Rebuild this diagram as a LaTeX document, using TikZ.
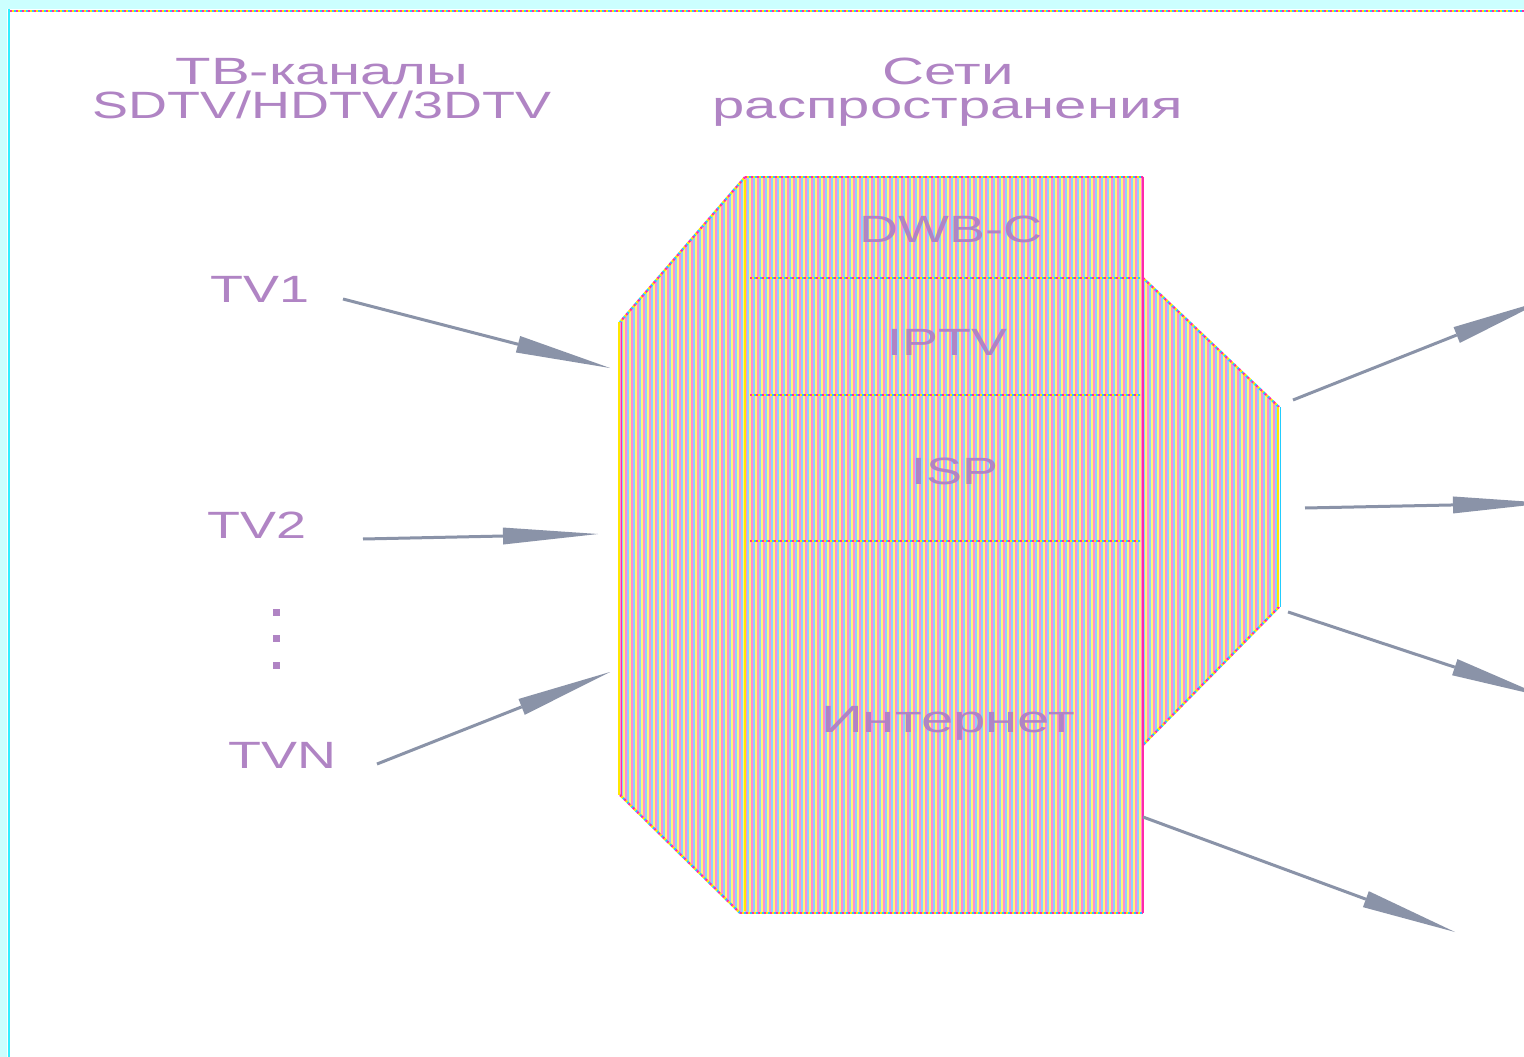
\documentclass[tikz,border=0pt]{standalone}
\usepackage{fontspec}
\setmainfont{Liberation Sans}
\newfontfamily\widefont[FakeStretch=1.42]{Liberation Sans}
\newfontfamily\widecyr[FakeStretch=1.53]{Liberation Sans}
\usetikzlibrary{arrows.meta}
\definecolor{bgcyan}{HTML}{CCFFFF}
\definecolor{brcyan}{HTML}{33EEFF}
\definecolor{stpink}{HTML}{FF8FCF}
\definecolor{stblue}{HTML}{8FD0FF}
\definecolor{styellow}{HTML}{FFF57A}
\definecolor{dmag}{HTML}{FF2AA8}
\definecolor{dcyan}{HTML}{22CCFF}
\definecolor{dyel}{HTML}{FFE800}
\definecolor{txtc}{HTML}{B084C4}
\definecolor{arrc}{HTML}{8A93A8}
\tikzset{
  lbl/.style={font=\widefont\fontsize{38}{40}\selectfont, text=txtc, inner sep=0pt, anchor=base},
  cyr/.style={lbl, font=\widecyr\fontsize{38}{40}\selectfont},
  heading/.style={text=txtc, inner sep=0pt, anchor=base, align=center,
    font=\fontsize{38}{34}\selectfont},
  tridot/.style={draw=dmag, line width=2.2pt, dash pattern=on 2pt off 4pt,
    preaction={draw=dcyan, line width=2.2pt, dash pattern=on 2pt off 4pt, dash phase=2pt},
    preaction={draw=dyel, line width=2.2pt, dash pattern=on 2pt off 4pt, dash phase=4pt}},
  arrowline/.style={draw=arrc, line width=3pt,
    -{Triangle[length=95pt,width=17pt,line width=0pt]}},
  solidedge/.style={line width=2pt},
}
\begin{document}
\begin{tikzpicture}[x=1pt,y=-1pt]
\useasboundingbox (0,0) rectangle (1524,1057);
\clip (0,0) rectangle (1524,1057);
% page border
\fill[white] (0,0) rectangle (1524,1057);
\fill[bgcyan] (0,0) rectangle (1524,9);
\fill[bgcyan] (0,0) rectangle (7,1057);
\draw[brcyan, line width=1.6pt] (9,9) -- (9,1057);
\draw[tridot] (10,11) -- (1524,11);

% striped network body
\begin{scope}
  \clip (745,177) -- (1143,177) -- (1143,278) -- (1279,407) -- (1279,607) -- (1143,745)
        -- (1143,913) -- (740,913) -- (620,795) -- (620,322) -- cycle;
  \foreach \x in {620,626,...,1286} {
    \draw[stpink, line width=1.7pt] (\x,170) -- (\x,920);
    \draw[stblue, line width=1.7pt] (\x+2,170) -- (\x+2,920);
    \draw[styellow, line width=1.7pt] (\x+4,170) -- (\x+4,920);
  }
\end{scope}
% outline
\draw[tridot] (745,177) -- (1143,177);
\draw[tridot] (745,177) -- (620,322);
\draw[tridot] (620,795) -- (740,913);
\draw[tridot] (740,913) -- (1143,913);
\draw[tridot] (1143,278) -- (1279,407);
\draw[tridot] (1279,607) -- (1143,745);
\draw[tridot] (750,278) -- (1140,278);
\draw[tridot] (750,395) -- (1140,395);
\draw[tridot] (750,541) -- (1140,541);
\draw[solidedge, dyel] (619,322) -- (619,795);
\draw[line width=1pt, dmag] (621.5,322) -- (621.5,795);
\draw[solidedge, dyel] (745,180) -- (745,911);
\draw[solidedge, dmag] (1143,177) -- (1143,913);
\draw[solidedge, dyel] (1278,407) -- (1278,607);
\draw[line width=1pt, dcyan] (1280.5,407) -- (1280.5,607);

% headings
\node[heading] (h1) at (322,118) {{\widecyr ТВ-каналы}\\{\widefont SDTV/HDTV/3DTV}};
\node[heading] (h2) at (948,118) {{\widecyr Сети}\\{\widecyr распространения}};

% network labels
\node[lbl] (dvb) at (951,242) {DWB-C};
\node[lbl] (iptv) at (947,355) {IPTV};
\node[lbl] (isp) at (955,484) {ISP};
\node[cyr] (inet) at (948,732) {Интернет};

% channels
\node[lbl] (tv1) at (260,302) {TV1};
\node[lbl] (tv2) at (257,538) {TV2};
\node[lbl] (tvn) at (282,768) {TVN};
\foreach \yy in {612,638,665} {
  \fill[txtc] (272.5,\yy-3.5) rectangle (279.5,\yy+3.5);
}

% connector end points
\coordinate (a1s) at (343,299);  \coordinate (a1e) at (610,368);
\coordinate (a2s) at (363,539);  \coordinate (a2e) at (598,534);
\coordinate (a3s) at (377,764);  \coordinate (a3e) at (610,672);
\coordinate (b1s) at (1293,400); \coordinate (b1e) at (1545,300);
\coordinate (b2s) at (1305,508); \coordinate (b2e) at (1548,503);
\coordinate (b3s) at (1288,612); \coordinate (b3e) at (1545,697);
\coordinate (b4s) at (1143,817); \coordinate (b4e) at (1455,932);

\draw[arrowline] (a1s) -- (a1e);
\draw[arrowline] (a2s) -- (a2e);
\draw[arrowline] (a3s) -- (a3e);
\draw[arrowline] (b1s) -- (b1e);
\draw[arrowline] (b2s) -- (b2e);
\draw[arrowline] (b3s) -- (b3e);
\draw[arrowline] (b4s) -- (b4e);
\end{tikzpicture}
\end{document}
